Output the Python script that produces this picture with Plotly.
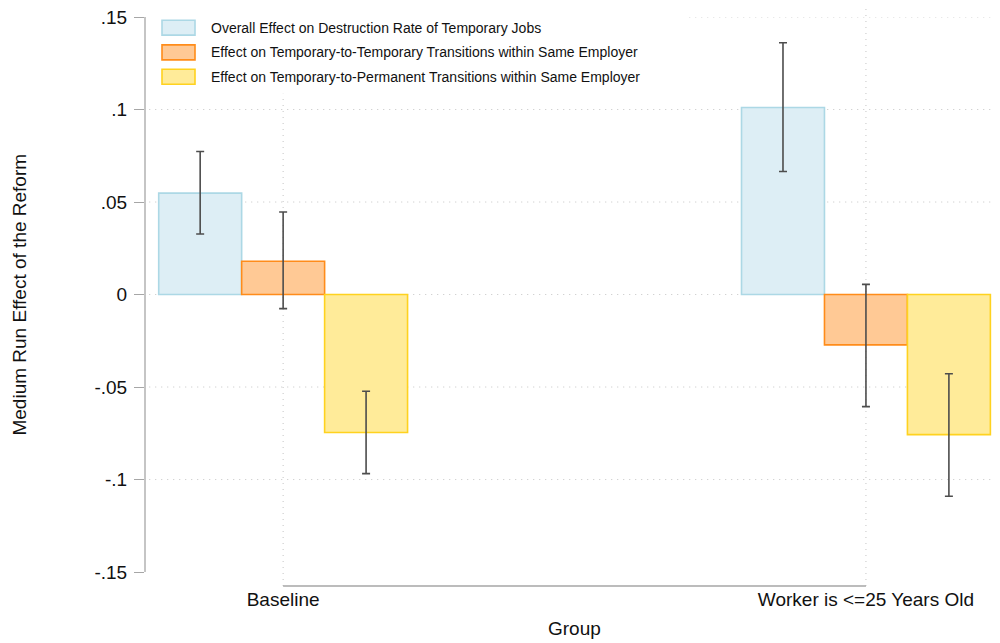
import plotly.graph_objects as go

# ---- data ----
groups = ["Baseline", "Worker is <=25 Years Old"]
series_names = [
    "Overall Effect on Destruction Rate of Temporary Jobs",
    "Effect on Temporary-to-Temporary Transitions within Same Employer",
    "Effect on Temporary-to-Permanent Transitions within Same Employer",
]
overall = [0.0548, 0.1011]
overall_lo = [0.0327, 0.0665]
overall_hi = [0.0773, 0.1361]

tt = [0.0180, -0.0272]
tt_lo = [-0.0076, -0.0606]
tt_hi = [0.0446, 0.0055]

tp = [-0.0746, -0.0757]
tp_lo = [-0.0968, -0.1090]
tp_hi = [-0.0523, -0.0428]

ytick_vals = [-0.15, -0.10, -0.05, 0.0, 0.05, 0.10, 0.15]
ytick_text = ["-.15", "-.1", "-.05", "0", ".05", ".1", ".15"]

fills = ["#ddeef5", "#ffc995", "#ffeb99"]
outlines = ["#acd8e5", "#ff8c1a", "#ffd21f"]

FONT = "Liberation Sans, Arial, sans-serif"

# ---- layout geometry ----
W, H = 1000, 643
ML, MR, MT, MB = 145, 7, 15, 57
PW, PH = W - ML - MR, H - MT - MB
y_top = 0.15
y_bot = y_top - PH * (0.30 / 557.0)


def px2paper_x(px):
    return (px - ML) / PW


def px2paper_y(py):
    return (H - MB - py) / PH


fig = go.Figure()
series = [
    (overall, overall_lo, overall_hi),
    (tt, tt_lo, tt_hi),
    (tp, tp_lo, tp_hi),
]
for i, (vals, lo, hi) in enumerate(series):
    fig.add_trace(go.Bar(
        x=groups, y=vals, name=series_names[i],
        marker=dict(color=fills[i], line=dict(color=outlines[i], width=1.6)),
        error_y=dict(type="data", symmetric=False,
                     array=[h - v for h, v in zip(hi, vals)],
                     arrayminus=[v - l for v, l in zip(vals, lo)],
                     color="#4d4d4d", thickness=1.6, width=4),
        showlegend=False,
    ))

shapes = []
grid_col = "#c4c4c4"
# horizontal gridlines (not at bottom axis edge)
for v in ytick_vals[1:]:
    shapes.append(dict(type="line", xref="paper", yref="y", x0=0.005, x1=1,
                       y0=v, y1=v, layer="below",
                       line=dict(color=grid_col, width=1, dash="1px,5px")))
# vertical gridlines at categories
for gi in range(len(groups)):
    shapes.append(dict(type="line", xref="x", yref="paper", x0=gi, x1=gi,
                       y0=0, y1=px2paper_y(4), layer="below",
                       line=dict(color=grid_col, width=1, dash="1px,5px")))
# white legend background
shapes.append(dict(type="rect", xref="paper", yref="paper",
                   x0=px2paper_x(149), x1=px2paper_x(688),
                   y0=px2paper_y(92), y1=px2paper_y(0), layer="below",
                   fillcolor="white", line=dict(width=0)))
# y-axis line
shapes.append(dict(type="line", xref="paper", yref="y", x0=0, x1=0,
                   y0=ytick_vals[0], y1=ytick_vals[-1], layer="above",
                   line=dict(color="#a6a6a6", width=1.3)))
# x-axis line spanning the categories
shapes.append(dict(type="line", xref="x", yref="paper", x0=0, x1=len(groups) - 1,
                   y0=0, y1=0, layer="above",
                   line=dict(color="#a6a6a6", width=1.3)))

annotations = []
legend_rows_y = [25.7, 50.5, 75.0]
for i, name in enumerate(series_names):
    cy = legend_rows_y[i]
    shapes.append(dict(type="rect", xref="paper", yref="paper",
                       x0=px2paper_x(162), x1=px2paper_x(195),
                       y0=px2paper_y(cy + 7.5), y1=px2paper_y(cy - 7.5),
                       layer="above", fillcolor=fills[i],
                       line=dict(color=outlines[i], width=1.6)))
    annotations.append(dict(xref="paper", yref="paper", x=px2paper_x(209),
                            y=px2paper_y(cy), xanchor="left", yanchor="middle",
                            text=name, showarrow=False,
                            font=dict(family=FONT, size=14, color="#111111")))

# axis titles
annotations.append(dict(xref="x", yref="paper", x=0.5, y=px2paper_y(629),
                        xanchor="center", yanchor="middle", text="Group",
                        showarrow=False, font=dict(family=FONT, size=19, color="#111111")))
annotations.append(dict(xref="paper", yref="y", x=px2paper_x(20), y=0.0,
                        xanchor="center", yanchor="middle", textangle=-90,
                        text="Medium Run Effect of the Reform", showarrow=False,
                        font=dict(family=FONT, size=19, color="#111111")))

fig.update_layout(
    width=W, height=H,
    margin=dict(l=ML, r=MR, t=MT, b=MB, pad=0),
    paper_bgcolor="white", plot_bgcolor="white",
    barmode="group", bargap=0.573, bargroupgap=0.0,
    font=dict(family=FONT, size=19, color="#111111"),
    shapes=shapes, annotations=annotations,
    showlegend=False,
)
fig.update_xaxes(type="category", range=[-0.237, 1.218], showline=False,
                 showgrid=False, zeroline=False, ticks="",
                 tickfont=dict(family=FONT, size=19, color="#111111"))
fig.update_yaxes(range=[y_bot, y_top], tickvals=ytick_vals, ticktext=ytick_text,
                 showline=False, showgrid=False, zeroline=False,
                 ticks="outside", ticklen=10, tickcolor="#a6a6a6", tickwidth=1.3,
                 ticklabelstandoff=3,
                 tickfont=dict(family=FONT, size=19, color="#111111"))

fig.write_html(
    "out.html",
    config={"displayModeBar": False},
    post_script="document.body.style.margin='0px';document.body.style.overflow='hidden';",
)
